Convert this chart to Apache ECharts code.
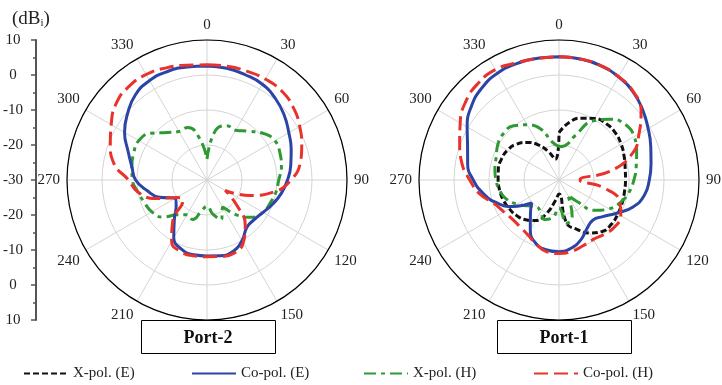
<!DOCTYPE html>
<html>
<head>
<meta charset="utf-8">
<script src="https://cdn.jsdelivr.net/npm/echarts@6/dist/echarts.min.js"></script>
<style>
  html, body { margin: 0; padding: 0; background: #fff; }
  #chart { width: 722px; height: 385px; }
</style>
</head>
<body>
<div id="chart"></div>
<script>
// angles in degrees, 0 at top, clockwise
const angles = [0, 10, 20, 30, 40, 50, 60, 70, 80, 90, 100, 110, 120, 130, 140, 150, 160, 170,
  180, 190, 200, 210, 220, 230, 240, 250, 260, 270, 280, 290, 300, 310, 320, 330, 340, 350]

// Port-2 (dBi)
const port2CoE = [2.6, 2.4, 2.0, 1.6, 0.4, -1.2, -3.0, -4.4, -5.7, -7.0, -8.4, -10.0, -11.5, -12.4, -12.3, -10.0, -8.3, -8.0,
  -8.3, -8.3, -8.9, -11.0, -15.5, -18.5, -19.5, -15.5, -12.6, -9.6, -8.2, -6.0, -2.8, -0.4, 1.8, 2.8, 3.0, 2.8]
const port2XH = [-24, -15.5, -13.5, -13.6, -11.8, -9.2, -7.6, -7.8, -8.4, -9.5, -10.0, -10.8, -11.5, -13.4, -17, -21, -18, -20,
  -22.5, -21, -18, -18.5, -17, -13.5, -11.8, -11, -10, -8.7, -8.2, -7.7, -7.5, -9.2, -12.3, -14, -14, -18]
const port2CoH = [2.9, 3.0, 3.1, 3.3, 3.2, 2.2, 0.6, -1.2, -3.0, -6.0, -10.5, -17.0, -24.0, -19.0, -13.0, -9.3, -7.7, -7.8,
  -8.1, -8.0, -8.2, -9.8, -14.8, -21.0, -20.0, -14.5, -10.0, -7.6, -3.0, -0.6, 1.6, 3.9, 4.8, 4.8, 4.1, 3.3]

// Port-1 (dBi)
const port1XE = [-16.5, -13.3, -11.2, -9.7, -9.0, -9.0, -9.5, -10.2, -10.8, -11.0, -11.0, -10.8, -10.6, -10.4, -10.8, -12.5, -15.0, -17.5,
  -26, -24, -20, -16.6, -15.2, -14.2, -13.6, -13.1, -12.8, -12.6, -12.4, -12.5, -13.0, -14.1, -16.0, -18.5, -21.5, -24]
const port1CoE = [5.2, 5.1, 4.8, 4.0, 2.9, 1.2, -0.6, -2.1, -3.3, -4.2, -5.2, -7.5, -11.0, -13.7, -15.0, -14.0, -11.8, -10.2,
  -9.5, -9.7, -10.7, -13.6, -17.3, -19.8, -14.8, -11.0, -8.0, -5.5, -3.5, -2.2, 0.3, 2.7, 4.3, 5.2, 5.4, 5.3]
const port1XH = [-20.5, -20, -16.5, -10.5, -7.3, -5.3, -5.2, -6.4, -7.6, -8.6, -9.7, -11.3, -13.5, -16.5, -22, -25, -19, -17.5,
  -22, -19, -18, -19.5, -20, -18.5, -16.2, -14, -12.8, -12, -11.4, -10.9, -9.8, -9.3, -9.8, -11.8, -14.4, -19]
const port1CoH = [5.2, 5.1, 4.8, 4.1, 3.0, 0.6, -3.6, -7.6, -15, -24, -17, -11.5, -9.6, -9.2, -9.8, -10.4, -10.0, -9.3,
  -9.0, -9.2, -10.7, -12.0, -12.6, -12.6, -11.8, -10.3, -7.0, -4.5, -1.8, 0.2, 2.6, 4.8, 6.0, 6.4, 5.6, 5.3]

// left scale labels, top to bottom
const dbTicks = ['10', '0', '-10', '-20', '-30', '-20', '-10', '0', '10']
const names = ['X-pol. (E)', 'Co-pol. (E)', 'X-pol. (H)', 'Co-pol. (H)']

const serif = 'Liberation Serif'
const styles = {
  'X-pol. (E)': { color: '#111111', width: 3, type: [6, 3] },
  'Co-pol. (E)': { color: '#2B44A6', width: 3, type: 'solid' },
  'X-pol. (H)': { color: '#2F9A34', width: 3, type: [12, 5, 4, 5] },
  'Co-pol. (H)': { color: '#E8322B', width: 3, type: [14, 6] }
}

function toPolar(vals) {
  const d = vals.map((v, i) => [v, angles[i]])
  d.push([vals[0], 360])
  return d
}

function line(name, vals, polarIndex, z) {
  const s = styles[name]
  return {
    name: name,
    type: 'line',
    coordinateSystem: 'polar',
    polarIndex: polarIndex,
    data: toPolar(vals),
    smooth: 0.5,
    symbol: 'none',
    z: z,
    itemStyle: { color: s.color },
    lineStyle: { color: s.color, width: s.width, type: s.type }
  }
}

function angleAxis(i) {
  return {
    polarIndex: i,
    type: 'value',
    min: 0,
    max: 360,
    interval: 30,
    startAngle: 90,
    clockwise: true,
    axisLine: { lineStyle: { color: '#000', width: 1.2 } },
    axisTick: { show: false },
    axisLabel: {
      margin: 7,
      fontFamily: serif,
      fontSize: 15,
      color: '#222',
      formatter: v => (v === 180 || v === 360 ? '' : String(v))
    },
    splitLine: { lineStyle: { color: '#d4d4d4', width: 1 } }
  }
}

function radiusAxis(i) {
  return {
    polarIndex: i,
    type: 'value',
    min: -30,
    max: 10,
    interval: 10,
    axisLine: { show: false },
    axisTick: { show: false },
    axisLabel: { show: false },
    splitLine: { lineStyle: { color: '#d4d4d4', width: 1 } }
  }
}

function legendAt(name, left) {
  return {
    data: [name],
    left: left,
    top: 361,
    itemWidth: 44,
    itemHeight: 14,
    itemGap: 0,
    itemStyle: { opacity: 0 },
    textStyle: { fontFamily: serif, fontSize: 15, color: '#222' }
  }
}

const chart = echarts.init(document.getElementById('chart'))
chart.setOption({
  animation: false,
  title: {
    text: '{a|(dB}{s|i}{a|)}',
    left: 7,
    top: 4,
    textStyle: {
      rich: {
        a: { fontFamily: serif, fontSize: 19, fontWeight: 'normal', color: '#222' },
        s: { fontFamily: serif, fontSize: 11, fontWeight: 'normal', color: '#222', verticalAlign: 'bottom', padding: [9, 0, 0, 0] }
      }
    }
  },
  legend: [
    legendAt(names[0], 18),
    legendAt(names[1], 186),
    legendAt(names[2], 358),
    legendAt(names[3], 528)
  ],
  grid: { left: 35, top: 40, width: 1, height: 280 },
  xAxis: { type: 'value', show: false },
  yAxis: {
    type: 'value',
    min: 0,
    max: 80,
    interval: 10,
    axisLine: { show: true, lineStyle: { color: '#555', width: 2 } },
    axisTick: { show: true, length: 5, lineStyle: { color: '#555', width: 1.5 } },
    minorTick: { show: true, splitNumber: 2, length: 3, lineStyle: { color: '#555', width: 1.5 } },
    splitLine: { show: false },
    axisLabel: {
      align: 'center',
      margin: 23,
      fontFamily: serif,
      fontSize: 15,
      color: '#222',
      formatter: v => dbTicks[(80 - v) / 10]
    }
  },
  polar: [
    { center: [207, 180], radius: 140 },
    { center: [559, 180], radius: 140 }
  ],
  angleAxis: [angleAxis(0), angleAxis(1)],
  radiusAxis: [radiusAxis(0), radiusAxis(1)],
  series: [
    line('X-pol. (H)', port2XH, 0, 2),
    line('Co-pol. (E)', port2CoE, 0, 3),
    line('Co-pol. (H)', port2CoH, 0, 4),
    line('X-pol. (E)', port1XE, 1, 2),
    line('X-pol. (H)', port1XH, 1, 2),
    line('Co-pol. (E)', port1CoE, 1, 3),
    line('Co-pol. (H)', port1CoH, 1, 4)
  ],
  graphic: [
    { type: 'rect', z: 100, shape: { x: 141.5, y: 320.5, width: 134, height: 33 },
      style: { fill: '#fff', stroke: '#000', lineWidth: 1 } },
    { type: 'text', z: 101, x: 208, y: 338,
      style: { text: 'Port-2', fontFamily: serif, fontSize: 18, fontWeight: 'bold', fill: '#111', align: 'center', verticalAlign: 'middle' } },
    { type: 'rect', z: 100, shape: { x: 497.5, y: 320.5, width: 134, height: 33 },
      style: { fill: '#fff', stroke: '#000', lineWidth: 1 } },
    { type: 'text', z: 101, x: 564, y: 338,
      style: { text: 'Port-1', fontFamily: serif, fontSize: 18, fontWeight: 'bold', fill: '#111', align: 'center', verticalAlign: 'middle' } }
  ]
})
</script>
</body>
</html>
